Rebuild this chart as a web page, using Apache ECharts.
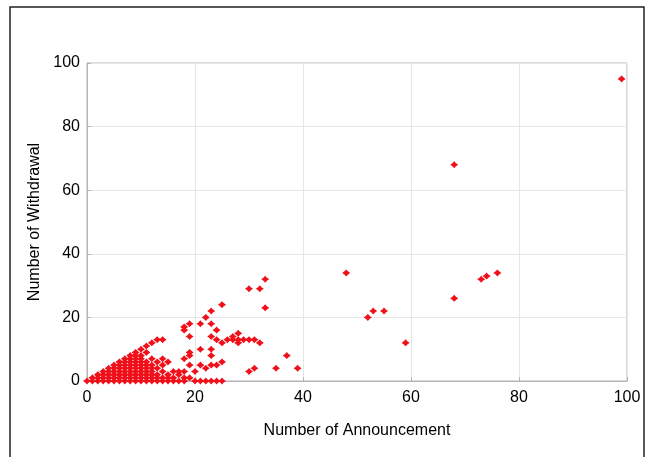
<!DOCTYPE html>
<html>
<head>
<meta charset="utf-8">
<script src="https://cdn.jsdelivr.net/npm/echarts@6/dist/echarts.min.js"></script>
<style>
  html, body { margin: 0; padding: 0; background: #fff; }
  #chart { width: 654px; height: 457px; }
</style>
</head>
<body>
<div id="chart"></div>
<script>
// Axis ticks
const xTicks = [0, 20, 40, 60, 80, 100];
const yTicks = [0, 20, 40, 60, 80, 100];

// [announcements, withdrawals] — the dense group of small counts
const denseCluster = [
  [0,0],
  [1,0],[1,1],
  [2,0],[2,1],[2,2],
  [3,0],[3,1],[3,2],[3,3],
  [4,0],[4,1],[4,2],[4,3],[4,4],
  [5,0],[5,1],[5,2],[5,3],[5,4],[5,5],
  [6,0],[6,1],[6,2],[6,3],[6,4],[6,5],[6,6],
  [7,0],[7,1],[7,2],[7,3],[7,4],[7,5],[7,6],[7,7],
  [8,0],[8,1],[8,2],[8,3],[8,4],[8,5],[8,6],[8,7],[8,8],
  [9,0],[9,1],[9,2],[9,3],[9,4],[9,5],[9,6],[9,7],[9,8],[9,9],
  [10,0],[10,1],[10,2],[10,3],[10,4],[10,5],[10,6],[10,7],[10,8],[10,10],
  [11,0],[11,1],[11,2],[11,3],[11,4],[11,5],[11,6],[11,9],[11,11],
  [12,0],[12,1],[12,2],[12,3],[12,4],[12,5],[12,7],[12,12],
  [13,0],[13,1],[13,2],[13,4],[13,6],[13,13],
  [14,0],[14,1],[14,3],[14,5],[14,7],[14,13],
  [15,0],[15,1],[15,2],[15,6],
  [16,0],[16,1],[16,3],
  [17,0],[17,2],[17,3],
  [18,0],[18,1],[18,3],[18,7],
  [19,1],[19,5],[19,8],[19,9],
  [20,0],[20,3]
];

// [announcements, withdrawals] — medium counts
const midPoints = [
  [18,16],[18,17],[19,14],[19,18],[21,18],[22,20],[23,22],[23,18],
  [24,16],[23,14],[25,24],[25,12],[24,13],[27,14],
  [26,13],[27,13],[28,13],[29,13],[30,13],[31,13],[28,12],[32,12],[28,15],
  [21,10],[23,10],[23,8],[21,5],[22,4],[23,5],[24,5],[25,6],
  [21,0],[22,0],[23,0],[24,0],[25,0],
  [30,3],[31,4],[35,4],[37,8],[39,4],
  [30,29],[32,29],[33,32],[33,23]
];

// [announcements, withdrawals] — large counts
const largePoints = [
  [48,34],[52,20],[53,22],[55,22],[59,12],
  [68,68],[68,26],[73,32],[74,33],[76,34],[99,95]
];

const allPoints = denseCluster.concat(midPoints, largePoints);

const font = '"Liberation Sans", Arial, sans-serif';
const chart = echarts.init(document.getElementById('chart'), null, { renderer: 'canvas' });

chart.setOption({
  animation: false,
  backgroundColor: '#ffffff',
  grid: {
    left: 87, right: 27, top: 63, bottom: 76,
    show: true, borderColor: '#b4b4b4', borderWidth: 1
  },
  graphic: [{
    type: 'rect',
    shape: { x: 10, y: 7, width: 634, height: 470 },
    style: { fill: null, stroke: '#222', lineWidth: 1.5 },
    silent: true
  }],
  xAxis: {
    type: 'value',
    min: xTicks[0], max: xTicks[xTicks.length - 1], interval: xTicks[1] - xTicks[0],
    name: 'Number of Announcement',
    nameLocation: 'middle', nameGap: 42,
    nameTextStyle: { fontSize: 16, color: '#000', fontFamily: font },
    axisLine: { show: true, lineStyle: { color: '#b4b4b4' } },
    axisTick: { show: true, inside: true, length: 4, lineStyle: { color: '#b4b4b4' } },
    axisLabel: { fontSize: 16, color: '#000', margin: 9, fontFamily: font },
    splitLine: { show: true, lineStyle: { color: '#e6e6e6' } }
  },
  yAxis: {
    type: 'value',
    min: yTicks[0], max: yTicks[yTicks.length - 1], interval: yTicks[1] - yTicks[0],
    name: 'Number of Withdrawal',
    nameLocation: 'middle', nameGap: 41,
    nameTextStyle: { fontSize: 16, color: '#000', fontFamily: font },
    axisLine: { show: true, lineStyle: { color: '#b4b4b4' } },
    axisTick: { show: true, inside: true, length: 4, lineStyle: { color: '#b4b4b4' } },
    axisLabel: { fontSize: 16, color: '#000', margin: 7, fontFamily: font },
    splitLine: { show: true, lineStyle: { color: '#e6e6e6' } }
  },
  series: [{
    type: 'scatter',
    data: allPoints,
    symbol: 'path://M0,-1 L0.45,-0.45 L1,0 L0.45,0.45 L0,1 L-0.45,0.45 L-1,0 L-0.45,-0.45 Z',
    symbolSize: [8, 7],
    itemStyle: { color: '#f0101a', opacity: 1 },
    silent: true
  }]
});
</script>
</body>
</html>
